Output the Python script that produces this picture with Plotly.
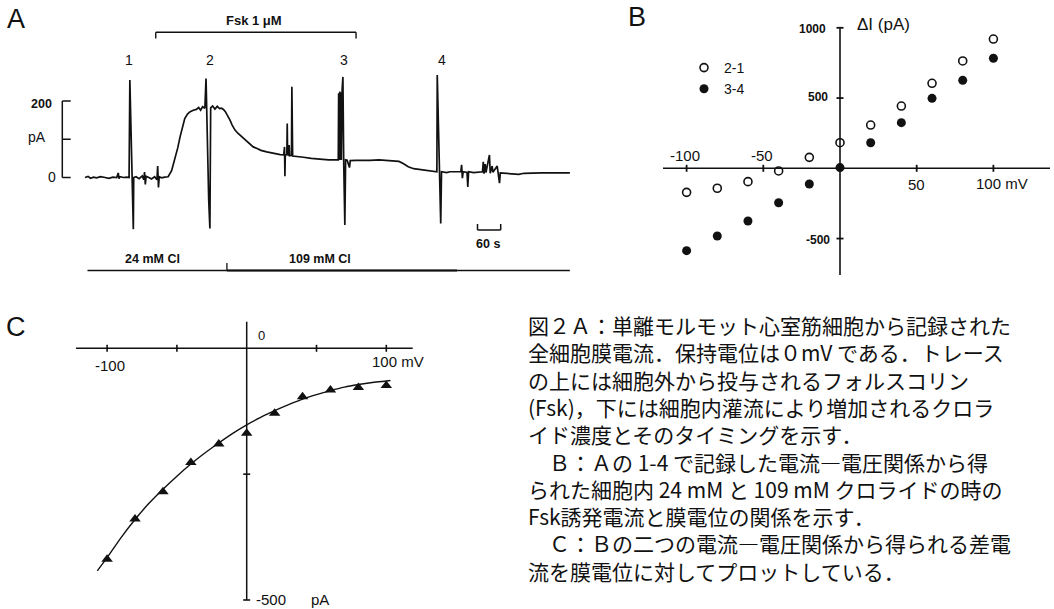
import plotly.graph_objects as go

W, H = 1054, 609

# ---------------- Panel A: whole-cell current record ----------------
TRACE_T_S = [0, 8, 14, 22, 30, 40, 52, 62, 72, 82, 86, 88, 90, 100, 108, 114,
             116, 118, 121, 125, 126,
             132, 140, 148, 152, 154, 156, 158, 165, 172, 180, 186, 188, 190, 192, 198, 206, 215,
             224, 232, 240, 246, 252, 258, 265, 272, 280, 288, 294, 299, 304, 310,
             313, 316, 320, 323, 325,
             330, 336, 342, 348, 353, 358, 363, 369, 375, 381, 388, 396, 405, 418, 428, 435, 445, 455, 470, 490, 505, 514,
             516, 517, 518, 522, 523, 524, 527, 528, 529, 534, 535, 537,
             550, 565, 585, 608, 630, 652,
             655, 656, 657, 659, 660, 662, 663, 665, 667, 669, 672, 674,
             678, 684, 686, 700, 720, 737, 760, 785, 802, 812, 824, 836, 850, 871, 890, 905,
             910, 911, 915, 920, 922,
             935, 944, 960, 972, 974, 976, 978, 988, 990, 992, 1005, 1018, 1028, 1030, 1032, 1035, 1037,
             1046, 1048, 1053, 1055, 1066, 1068, 1072, 1074, 1086, 1100, 1112, 1122, 1135, 1151, 1180, 1210, 1254]
TRACE_I_PA = [0, 3, -2, 1, -1, 2, 0, -2, 1, 0, 12, -3, 2, 0, 1, 0,
              255, 150, 0, -135, 0,
              2, -3, 4, -6, 14, -18, 3, 0, -4, 2, -6, 30, -26, 2, -1, 1, 2,
              18, 46, 78, 107, 133, 154, 166, 172, 176, 178, 183, 176, 185, 181,
              259, 100, -60, -133, 182,
              187, 179, 186, 180, 181, 178, 172, 162, 150, 136, 124, 115, 107, 95, 88, 80, 76, 71, 67, 62, 60, 59,
              80, 3, 58, 60, 141, 58, 60, 85, 57, 58, 237, 56,
              55, 53, 50, 47, 46, 46,
              46, 220, 46, 225, 46, 222, 46, 230, 263, 46, -124, 46,
              45, 26, 44, 45, 44, 45, 46, 45, 44, 42, 36, 28, 23, 20, 16, 14,
              15, 268, 100, -120, 15,
              13, 15, 14, 15, 33, -2, 15, 13, -25, 15, 13, 15, 15, 41, 10, 35, 13,
              59, 11, 30, 14, 30, 13, -15, 12, 11, 9, 7, 8, 11, 12, 12, 12, 12]
SPIKE_LABELS = ["1", "2", "3", "4"]
FSK_ON_OFF_S = [183, 701]
CL_SWITCH_S = 367
CL_THICK_END_S = 962
CL_LABELS = ["24 mM Cl", "109 mM Cl"]
SCALE_I_PA = [0, 100, 200]
SCALE_T_S = 60

# ---------------- Panel B: Fsk-induced current vs potential ----------------
V_B_MV = [-100, -80, -60, -40, -20, 0, 20, 40, 60, 80, 100]
DI_21_PA = [-171, -142, -95, -19, 78, 182, 308, 443, 605, 764, 920]
DI_34_PA = [-586, -482, -375, -245, -112, 5, 182, 325, 498, 626, 783]
B_XTICKS = [-100, -50, 50, 100]
B_YTICKS = [1000, 500, -500]

# ---------------- Panel C: difference current ----------------
V_C_MV = [-100, -80, -60, -40, -20, 0, 20, 40, 60, 80, 100]
DIFF_I_PA = [-419, -339, -285, -227, -190, -169, -129, -96, -83, -78, -74]
FIT_V_MV = [-107, -100, -90, -80, -70, -60, -50, -40, -30, -20, -10, 0, 10, 20, 30, 40, 50, 60, 70, 80, 90, 100, 103]
FIT_I_PA = [-442, -416, -376, -340, -308, -280, -254, -230, -208, -188, -169, -152, -137, -124, -112, -101, -92, -84, -77, -72, -68, -65, -64]
C_XTICKS = [-100, -50, 50, 100]
C_YTICKS = [-250, -500]

JP_LINES = [
    "図２Ａ：単離モルモット心室筋細胞から記録された",
    "全細胞膜電流．保持電位は０mV である．トレース",
    "の上には細胞外から投与されるフォルスコリン",
    "(Fsk)，下には細胞内灌流により増加されるクロラ",
    "イド濃度とそのタイミングを示す．",
    "　Ｂ：Ａの 1-4 で記録した電流―電圧関係から得",
    "られた細胞内 24 mM と 109 mM クロライドの時の",
    "Fsk誘発電流と膜電位の関係を示す．",
    "　Ｃ：Ｂの二つの電流―電圧関係から得られる差電",
    "流を膜電位に対してプロットしている．",
]

# ---------------- pixel calibration of the three panels ----------------
def a_t(px): return (px - 85) * (60 / 23.2)
def a_i(py): return (177.5 - py) / 0.3825
def b_v(px): return (px - 840) / 1.534
def b_i(py): return (168.3 - py) / 0.1405
def c_v(px): return (px - 246.7) / 1.396
def c_i(py): return (348.3 - py) / 0.5034
def PX(x): return x / W
def PY(y): return 1 - y / H

BLACK = "#111111"
FONT = "Liberation Sans, Arial, sans-serif"

fig = go.Figure()

fig.add_trace(go.Scatter(x=TRACE_T_S, y=TRACE_I_PA, mode="lines", xaxis="x", yaxis="y",
                         line=dict(color=BLACK, width=1.7), showlegend=False, hoverinfo="skip"))
fig.add_trace(go.Scatter(x=V_B_MV, y=DI_21_PA, mode="markers", xaxis="x2", yaxis="y2", name="2-1",
                         marker=dict(symbol="circle-open", size=8, color=BLACK, line=dict(width=1.6, color=BLACK))))
fig.add_trace(go.Scatter(x=V_B_MV, y=DI_34_PA, mode="markers", xaxis="x2", yaxis="y2", name="3-4",
                         marker=dict(symbol="circle", size=9, color=BLACK)))
fig.add_trace(go.Scatter(x=FIT_V_MV, y=FIT_I_PA, mode="lines", xaxis="x3", yaxis="y3", showlegend=False,
                         line=dict(color=BLACK, width=1.4, shape="spline")))
fig.add_trace(go.Scatter(x=V_C_MV, y=DIFF_I_PA, mode="markers", xaxis="x3", yaxis="y3", showlegend=False,
                         marker=dict(symbol="triangle-up", size=10, color=BLACK)))

shapes = []
def seg(xr, yr, x0, y0, x1, y1, w=1.5):
    shapes.append(dict(type="line", xref=xr, yref=yr, x0=x0, y0=y0, x1=x1, y1=y1,
                       line=dict(color=BLACK, width=w), layer="above"))

# Panel A decorations
y_top, y_end = a_i(32.3), a_i(38.5)
seg("x", "y", FSK_ON_OFF_S[0], y_end, FSK_ON_OFF_S[0], y_top, 1.4)
seg("x", "y", FSK_ON_OFF_S[0], y_top, FSK_ON_OFF_S[1], y_top, 1.4)
seg("x", "y", FSK_ON_OFF_S[1], y_top, FSK_ON_OFF_S[1], y_end, 1.4)
sb_t = a_t(62.3)
sb_tick = a_t(70.7) - sb_t
seg("x", "y", sb_t, SCALE_I_PA[0], sb_t, SCALE_I_PA[-1], 1.5)
for v in SCALE_I_PA:
    seg("x", "y", sb_t, v, sb_t + sb_tick, v, 1.5)
tb_t0 = a_t(477.5)
tb_y, tb_y2 = a_i(230), a_i(224)
seg("x", "y", tb_t0, tb_y, tb_t0 + SCALE_T_S, tb_y, 1.5)
seg("x", "y", tb_t0, tb_y, tb_t0, tb_y2, 1.5)
seg("x", "y", tb_t0 + SCALE_T_S, tb_y, tb_t0 + SCALE_T_S, tb_y2, 1.5)
cl_y = a_i(270.5)
seg("x", "y", a_t(87.5), cl_y, TRACE_T_S[-1], cl_y, 1.3)
seg("x", "y", CL_SWITCH_S, cl_y, CL_THICK_END_S, cl_y, 2.2)
seg("x", "y", CL_SWITCH_S, cl_y, CL_SWITCH_S, a_i(263), 1.3)

# Panel B axes
tkb_i = 3.5 / 0.1405
tkb_v = 3.5 / 1.534
seg("x2", "y2", b_v(663), 0, b_v(1050), 0, 1.6)
seg("x2", "y2", 0, b_i(28.3), 0, b_i(275), 1.6)
for v in B_XTICKS:
    seg("x2", "y2", v, -tkb_i, v, tkb_i, 1.8)
for v in B_YTICKS:
    seg("x2", "y2", -tkb_v, v, tkb_v, v, 1.8)

# Panel C axes
tkc_i = 3.5 / 0.5034
tkc_v = 3.5 / 1.396
seg("x3", "y3", c_v(76), 0, c_v(412.7), 0, 1.5)
seg("x3", "y3", 0, c_i(321.7), 0, C_YTICKS[-1], 1.5)
for v in C_XTICKS:
    seg("x3", "y3", v, -tkc_i, v, tkc_i, 1.6)
for v in C_YTICKS:
    seg("x3", "y3", -tkc_v, v, tkc_v, v, 1.6)

ann = []
def txt(s, x, y, size, bold=False, anchor="center", family=FONT, align="center"):
    ann.append(dict(text=("<b>%s</b>" % s) if bold else s, x=PX(x), y=PY(y), xref="paper", yref="paper",
                    showarrow=False, xanchor=anchor, yanchor="middle", align=align,
                    font=dict(family=family, size=size, color=BLACK)))

# panel letters
txt("A", 16, 19, 27)
txt("B", 637, 17, 27)
txt("C", 16, 327, 27)

# panel A text
txt("Fsk 1 μM", 254, 21, 13, bold=True)
for lab, x in zip(SPIKE_LABELS, [128.6, 209.6, 343.6, 442.1]):
    txt(lab, x, 60, 14)
txt("200", 41.7, 104, 12.5, bold=True)
txt("pA", 37.3, 137, 14)
txt("0", 51.7, 177.5, 14)
txt("60 s", 488, 243.5, 12.5, bold=True)
txt(CL_LABELS[0], 152, 259, 12.5, bold=True)
txt(CL_LABELS[1], 320, 258.5, 12.5, bold=True)

# panel B text
txt("1000", 812.3, 29.3, 12, bold=True)
txt("500", 817.7, 97.3, 12, bold=True)
txt("-500", 818.3, 240, 12, bold=True)
txt("ΔI (pA)", 883, 25, 17)
txt("-100", 685, 155.7, 15)
txt("-50", 761.7, 155.3, 15)
txt("50", 916.7, 185, 15)
txt("100 mV", 1001.7, 183.3, 15)

# panel C text
txt("0", 261.7, 335, 13)
txt("-100", 110, 365, 15)
txt("100 mV", 398, 361.7, 15)
txt("-500", 271, 599, 15)
txt("pA", 320, 599, 15)

# caption: one multi-line text block (line pitch = 1.3 x font size)
cap_size = 21
cap_mid = 325 + 1.3 * cap_size * (len(JP_LINES) - 1) / 2
txt("<br>".join(JP_LINES), 526, cap_mid, cap_size, anchor="left", family="Noto Sans CJK JP", align="left")

hidden = dict(visible=False, showgrid=False, zeroline=False, fixedrange=True)
fig.update_layout(
    width=W, height=H, margin=dict(l=0, r=0, t=0, b=0),
    paper_bgcolor="white", plot_bgcolor="rgba(0,0,0,0)",
    font=dict(family=FONT, color=BLACK),
    xaxis=dict(domain=[PX(55), PX(580)], range=[a_t(55), a_t(580)], anchor="y", **hidden),
    yaxis=dict(domain=[PY(300), PY(10)], range=[a_i(300), a_i(10)], anchor="x", **hidden),
    xaxis2=dict(domain=[PX(645), PX(1054)], range=[b_v(645), b_v(1054)], anchor="y2", **hidden),
    yaxis2=dict(domain=[PY(295), PY(5)], range=[b_i(295), b_i(5)], anchor="x2", **hidden),
    xaxis3=dict(domain=[PX(60), PX(440)], range=[c_v(60), c_v(440)], anchor="y3", **hidden),
    yaxis3=dict(domain=[PY(606), PY(312)], range=[c_i(606), c_i(312)], anchor="x3", **hidden),
    shapes=shapes, annotations=ann,
    showlegend=True,
    legend=dict(x=PX(684), y=PY(52), xanchor="left", yanchor="top", bgcolor="rgba(0,0,0,0)",
                font=dict(family=FONT, size=14, color=BLACK), itemwidth=30, tracegroupgap=0),
)

fig.write_html("out.html", config={"displayModeBar": False},
               post_script="document.body.style.margin='0';document.body.style.overflow='hidden';")
